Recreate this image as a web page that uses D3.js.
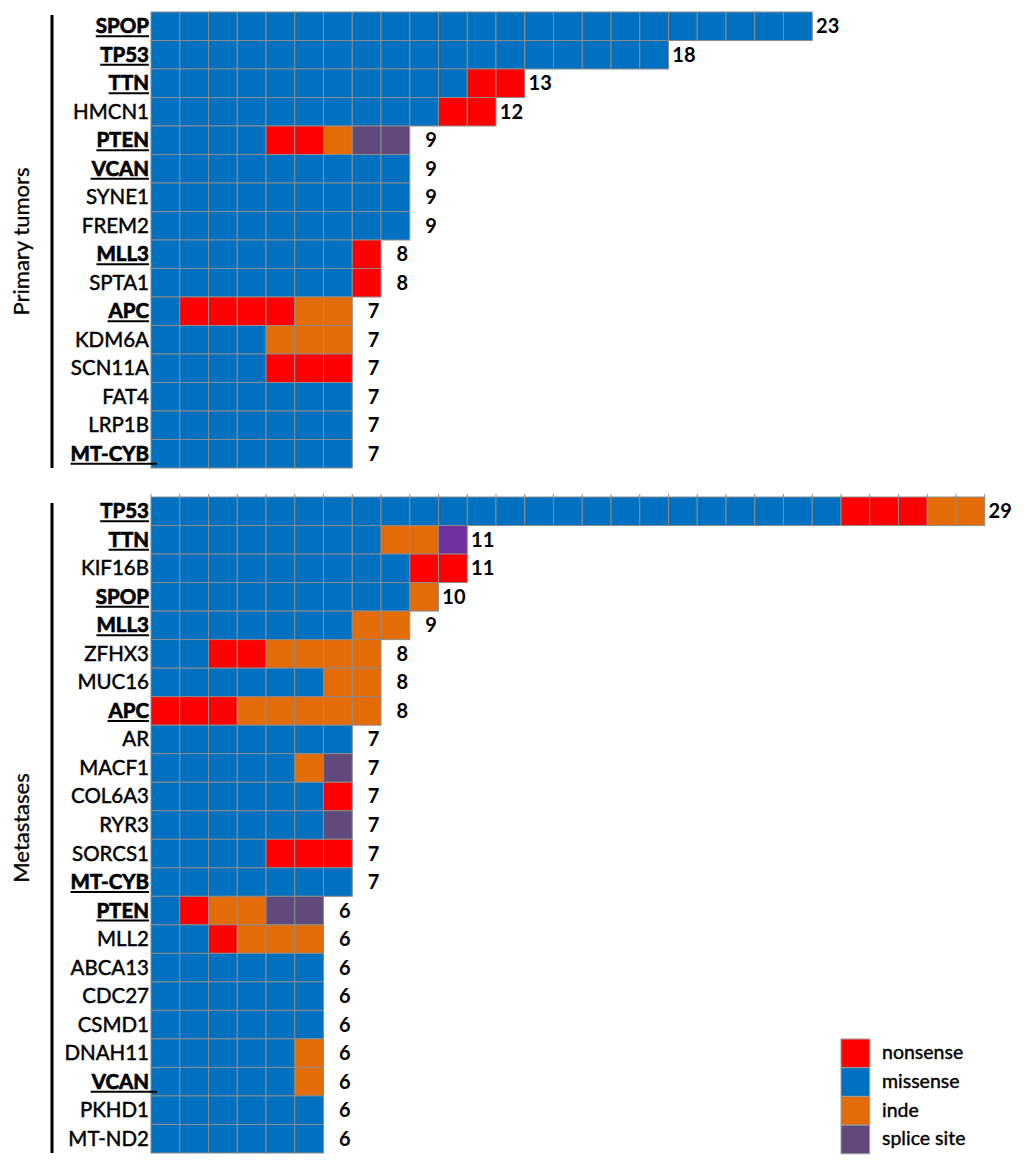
<!DOCTYPE html>
<html>
<head>
<meta charset="utf-8">
<script src="https://cdn.jsdelivr.net/npm/d3@7/dist/d3.min.js"></script>
<style>
html,body{margin:0;padding:0;background:#fff;}
svg{display:block;}
</style>
</head>
<body>
<svg id="chart" width="1024" height="1167"></svg>
<script>
// ---------- DATA ----------
const mutationTypes = ["missense", "nonsense", "inde", "splice site", "splice site (alt)"];
const legendTypes = ["nonsense", "missense", "inde", "splice site"];

const primaryGenes    = ["SPOP","TP53","TTN","HMCN1","PTEN","VCAN","SYNE1","FREM2","MLL3","SPTA1","APC","KDM6A","SCN11A","FAT4","LRP1B","MT-CYB"];
const primaryDriver   = ["SPOP","TP53","TTN","PTEN","VCAN","MLL3","APC","MT-CYB"];
const primaryMissense = [23,18,11,10,4,9,9,9,7,7,1,4,4,7,7,7];
const primaryNonsense = [0,0,2,2,2,0,0,0,1,1,4,0,3,0,0,0];
const primaryInde     = [0,0,0,0,1,0,0,0,0,0,2,3,0,0,0,0];
const primarySplice   = [0,0,0,0,2,0,0,0,0,0,0,0,0,0,0,0];
const primarySplice2  = [0,0,0,0,0,0,0,0,0,0,0,0,0,0,0,0];

const metGenes    = ["TP53","TTN","KIF16B","SPOP","MLL3","ZFHX3","MUC16","APC","AR","MACF1","COL6A3","RYR3","SORCS1","MT-CYB","PTEN","MLL2","ABCA13","CDC27","CSMD1","DNAH11","VCAN","PKHD1","MT-ND2"];
const metDriver   = ["TP53","TTN","SPOP","MLL3","APC","MT-CYB","PTEN","VCAN"];
const metMissense = [24,8,9,9,7,2,6,0,7,5,6,6,4,7,1,2,6,6,6,5,5,6,6];
const metNonsense = [3,0,2,0,0,2,0,3,0,0,1,0,3,0,1,1,0,0,0,0,0,0,0];
const metInde     = [2,2,0,1,2,4,2,5,0,1,0,0,0,0,2,3,0,0,0,1,1,0,0];
const metSplice   = [0,0,0,0,0,0,0,0,0,1,0,1,0,0,2,0,0,0,0,0,0,0,0];
const metSplice2  = [0,1,0,0,0,0,0,0,0,0,0,0,0,0,0,0,0,0,0,0,0,0,0];

const trailingUnderline = { primary: ["MT-CYB"], met: ["VCAN"] };

// ---------- STYLE ----------
const colors = {
  "nonsense": "#FF0000",
  "missense": "#0070C0",
  "inde": "#E36C09",
  "splice site": "#604A7B",
  "splice site (alt)": "#7030A0"
};
const FONT = "Lato, 'Open Sans', sans-serif";

const svg = d3.select("#chart");
const cellW = 28.75;
const x = d3.scaleLinear().domain([0, 30]).range([151, 151 + 30 * cellW]);

function buildRows(genes, ms, ns, ins, sp, sp2) {
  return genes.map((g, i) => {
    const seq = [];
    const add = (t, n) => { for (let k = 0; k < n; k++) seq.push(t); };
    add("missense", ms[i]); add("nonsense", ns[i]); add("inde", ins[i]);
    add("splice site", sp[i]); add("splice site (alt)", sp2[i]);
    return { gene: g, cells: seq.map((t, j) => ({ type: t, idx: j, gene: g })), total: seq.length };
  });
}

function drawPanel(rows, drivers, trailing, top, bottom, lineTop, title, tickTop) {
  const y = d3.scaleBand().domain(rows.map(r => r.gene)).range([top, bottom]).padding(0);
  const g = svg.append("g");

  if (tickTop) {
    const maxN = d3.max(rows, r => r.total);
    g.selectAll("line.tick").data(d3.range(maxN + 1)).join("line")
      .attr("x1", d => x(d)).attr("x2", d => x(d))
      .attr("y1", top - 3).attr("y2", top)
      .attr("stroke", "#8c8c8c").attr("stroke-width", 1);
  }

  const rowG = g.selectAll("g.row").data(rows).join("g").attr("class", "row");
  rowG.selectAll("rect").data(d => d.cells).join("rect")
    .attr("x", d => x(d.idx))
    .attr("y", d => y(d.gene))
    .attr("width", x(1) - x(0))
    .attr("height", y.bandwidth())
    .attr("fill", d => colors[d.type])
    .attr("stroke", "#8c8c8c")
    .attr("stroke-width", 1);

  // count labels
  g.selectAll("text.count").data(rows).join("text")
    .attr("x", d => x(d.total) + 27)
    .attr("y", d => y(d.gene) + y.bandwidth() / 2 + 7)
    .attr("text-anchor", "end")
    .attr("font-family", FONT).attr("font-weight", "bold").attr("font-size", 20)
    .attr("fill", "#000")
    .text(d => d.total);

  // gene labels
  const labels = g.selectAll("text.gene").data(rows).join("text")
    .attr("x", 149)
    .attr("y", d => y(d.gene) + y.bandwidth() / 2 + 7)
    .attr("text-anchor", "end")
    .attr("font-family", FONT)
    .attr("font-weight", d => drivers.includes(d.gene) ? "bold" : "normal")
    .attr("font-size", 20.5)
    .attr("fill", "#000")
    .attr("stroke", "#000")
    .attr("stroke-width", d => drivers.includes(d.gene) ? 0.7 : 0.45)
    .text(d => d.gene);

  labels.each(function (d) {
    if (!drivers.includes(d.gene)) return;
    const bb = this.getBBox();
    const yy = y(d.gene) + y.bandwidth() / 2 + 10;
    g.append("line")
      .attr("x1", bb.x).attr("x2", trailing.includes(d.gene) ? 157 : 149)
      .attr("y1", yy).attr("y2", yy)
      .attr("stroke", "#000").attr("stroke-width", 2);
  });

  // vertical bracket line
  g.append("line")
    .attr("x1", 52).attr("x2", 52)
    .attr("y1", lineTop).attr("y2", bottom)
    .attr("stroke", "#000").attr("stroke-width", 3);

  // group title
  const cy = (lineTop + bottom) / 2;
  g.append("text")
    .attr("transform", `translate(29,${cy}) rotate(-90)`)
    .attr("text-anchor", "middle")
    .attr("font-family", FONT).attr("font-size", 22).attr("fill", "#000")
    .attr("stroke", "#000").attr("stroke-width", 0.3)
    .text(title);
}

const primaryRows = buildRows(primaryGenes, primaryMissense, primaryNonsense, primaryInde, primarySplice, primarySplice2);
const metRows = buildRows(metGenes, metMissense, metNonsense, metInde, metSplice, metSplice2);

drawPanel(primaryRows, primaryDriver, trailingUnderline.primary, 12, 468, 15, "Primary tumors", false);
drawPanel(metRows, metDriver, trailingUnderline.met, 497, 1153, 503, "Metastases", true);

// legend
const ly = d3.scaleBand().domain(legendTypes).range([1039, 1039 + 4 * 28.7]);
const leg = svg.append("g");
leg.selectAll("rect").data(legendTypes).join("rect")
  .attr("x", 841).attr("y", d => ly(d))
  .attr("width", 28.7).attr("height", ly.bandwidth())
  .attr("fill", d => colors[d]).attr("stroke", "#a0a0a0").attr("stroke-width", 1);
leg.selectAll("text").data(legendTypes).join("text")
  .attr("x", 882).attr("y", d => ly(d) + ly.bandwidth() / 2 + 6)
  .attr("font-family", FONT).attr("font-size", 19.5).attr("fill", "#000")
  .attr("stroke", "#000").attr("stroke-width", 0.4)
  .text(d => d);
</script>
</body>
</html>
